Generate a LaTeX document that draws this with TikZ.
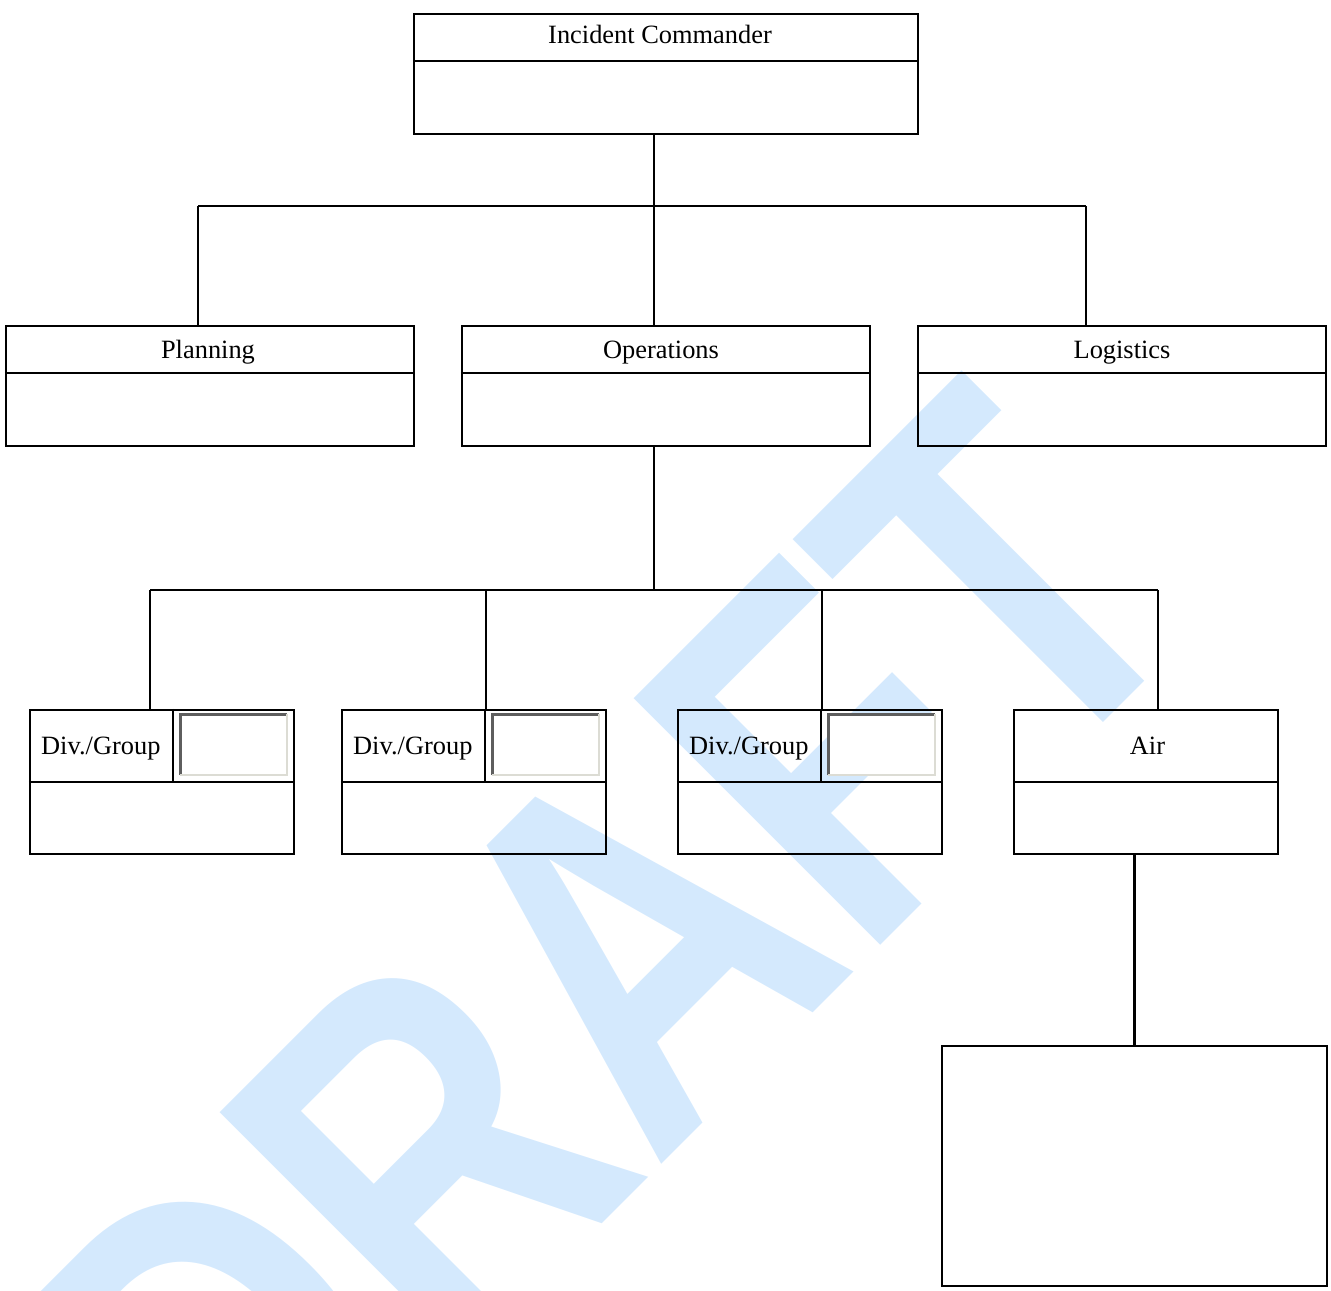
\documentclass[tikz,border=0pt]{standalone}
\usepackage{fontspec}
\setmainfont{Liberation Serif}
\newfontfamily\stampfont{Liberation Sans}
\usepackage{tikz}
\definecolor{stampBlue}{HTML}{D4E9FD}
\definecolor{fieldDark}{HTML}{5E5E5E}
\definecolor{fieldLight}{HTML}{DCDCD4}

\begin{document}
\begin{tikzpicture}[
  x=0.5pt, y=-0.5pt,
  box/.style={draw,line width=1.2pt,inner sep=0pt,minimum height=60pt},
  wide/.style={box,minimum width=204pt},
  unit/.style={box,minimum width=132pt,minimum height=72pt},
  title/.style={anchor=base,inner sep=0pt,font=\fontsize{13.2pt}{16pt}\selectfont},
  field/.style={fill=white,inner sep=0pt,minimum width=53pt,minimum height=30pt},
  link/.style={line width=1.2pt},
  stamp/.style={text=stampBlue,inner sep=0pt,anchor=base west,rotate=45,font=\stampfont\bfseries\fontsize{253.5pt}{254pt}\selectfont}
]
\useasboundingbox (0,0) rectangle (1331,1290);

% watermark behind everything
\begin{scope}
  \clip (0,0) rectangle (1331,1290);
  \node[stamp] (stamp) at (240,1586) {\scalebox{0.8}[1]{DRAFT}};
\end{scope}

% command and general staff
\node[box,minimum width=252pt] (ic) at (666,74) {};
\node[wide] (plan) at (210,386) {};
\node[wide] (ops) at (666,386) {};
\node[wide] (logi) at (1122,386) {};
\foreach \n in {ic,plan,ops,logi}
  \draw[link] ([yshift=-24pt]\n.north west) -- ([yshift=-24pt]\n.north east);

\node[title] (ic-t) at ([xshift=-3pt,yshift=-15.5pt]ic.north) {Incident Commander};
\node[title] (plan-t) at ([xshift=-1pt,yshift=-17pt]plan.north) {Planning};
\node[title] (ops-t) at ([xshift=-2.5pt,yshift=-17pt]ops.north) {Operations};
\node[title] (logi-t) at ([yshift=-17pt]logi.north) {Logistics};

% divisions / groups with their number fields
\foreach \i/\x in {1/162,2/474,3/810} {
  \node[unit] (div\i) at (\x,782) {};
  \draw[link] (div\i.west) -- (div\i.east);
  \draw[link] ([xshift=72pt]div\i.north west) -- ([xshift=72pt]div\i.west);
  \node[title] (div\i-t) at ([xshift=36pt,yshift=-23pt]div\i.north west) {Div./Group};
  \node[field] (field\i) at ([xshift=102.5pt,yshift=-18pt]div\i.north west) {};
  \draw[fieldDark,line width=1.5pt] (field\i.south west) -- (field\i.north west) -- (field\i.north east);
  \draw[fieldLight,line width=1pt] (field\i.north east) -- (field\i.south east) -- (field\i.south west);
}

\node[unit] (air) at (1146,782) {};
\draw[link] (air.west) -- (air.east);
\node[title] (air-t) at ([xshift=0.75pt,yshift=-23pt]air.north) {Air};
\node[box,minimum width=192.5pt,minimum height=120pt] (crew) at (1134.5,1166) {};

% upper bus
\coordinate (cmd-bus) at (654,206);
\coordinate (plan-bus) at (198,206);
\coordinate (logi-bus) at (1086,206);
\draw[link] (ic.south -| cmd-bus) -- (cmd-bus);
\draw[link] (plan-bus) -- (logi-bus);
\draw[link] (plan-bus) -- (plan-bus |- plan.north);
\draw[link] (cmd-bus) -- (cmd-bus |- ops.north);
\draw[link] (logi-bus) -- (logi-bus |- logi.north);

% lower bus
\coordinate (ops-bus) at (654,590);
\coordinate (bus1) at (150,590);
\coordinate (bus2) at (486,590);
\coordinate (bus3) at (822,590);
\coordinate (air-bus) at (1158,590);
\draw[link] (ops.south -| ops-bus) -- (ops-bus);
\draw[link] (bus1) -- (air-bus);
\foreach \i in {1,2,3}
  \draw[link] (bus\i) -- (bus\i |- div\i.north);
\draw[link] (air-bus) -- (air-bus |- air.north);
\draw[link] (air.south -| crew.north) -- (crew.north);
\end{tikzpicture}
\end{document}
